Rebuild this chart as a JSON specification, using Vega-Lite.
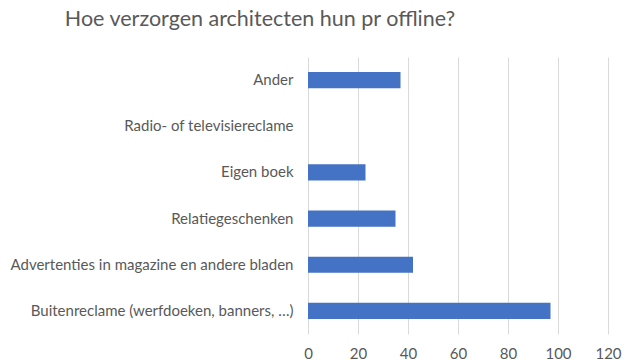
{
  "$schema": "https://vega.github.io/schema/vega-lite/v6.json",
  "autosize": "none",
  "width": 300,
  "height": 277,
  "padding": {"left": 308, "top": 57, "right": 32, "bottom": 26},
  "background": "white",
  "title": {
    "text": "Hoe verzorgen architecten hun pr offline?",
    "anchor": "middle",
    "dx": -198,
    "offset": 27,
    "font": "Lato",
    "fontSize": 21.5,
    "fontWeight": "normal",
    "color": "#595959"
  },
  "data": {
    "values": [
      {"cat": "Ander", "v": 37},
      {"cat": "Radio- of televisiereclame", "v": 0},
      {"cat": "Eigen boek", "v": 23},
      {"cat": "Relatiegeschenken", "v": 35},
      {"cat": "Advertenties in magazine en andere bladen", "v": 42},
      {"cat": "Buitenreclame (werfdoeken, banners, …)", "v": 97}
    ]
  },
  "mark": {"type": "bar", "color": "#4472c4"},
  "encoding": {
    "y": {
      "field": "cat",
      "type": "nominal",
      "sort": null,
      "scale": {"paddingInner": 0.65, "paddingOuter": 0.325},
      "axis": {
        "title": null,
        "ticks": false,
        "domain": false,
        "labelPadding": 15,
        "labelFont": "Lato",
        "labelFontSize": 15,
        "labelColor": "#595959",
        "labelLimit": 400
      }
    },
    "x": {
      "field": "v",
      "type": "quantitative",
      "scale": {"domain": [0, 120]},
      "axis": {
        "title": null,
        "values": [0, 20, 40, 60, 80, 100, 120],
        "ticks": false,
        "domain": false,
        "grid": true,
        "gridColor": "#d9d9d9",
        "gridWidth": 1,
        "labelFlush": false,
        "labelPadding": 12,
        "labelFont": "Lato",
        "labelFontSize": 15,
        "labelColor": "#595959"
      }
    }
  },
  "config": {"view": {"stroke": null}}
}
